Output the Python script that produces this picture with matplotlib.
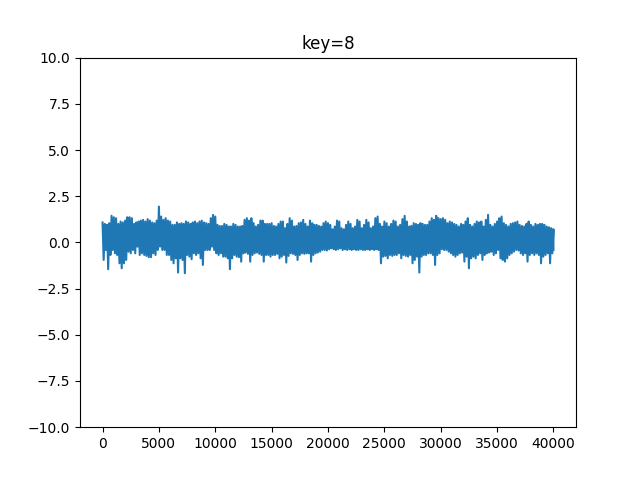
import matplotlib
matplotlib.use("Agg")
import matplotlib.pyplot as plt
import numpy as np

# envelope of the signal, one value every 200 samples
upper = [
    1.08, 1.00, 0.95, 1.04, 1.44, 1.36, 1.31, 1.00, 1.13, 1.08,
    1.18, 1.36, 1.36, 1.31, 1.00, 1.08, 1.13, 1.18, 1.22, 1.13,
    1.26, 1.18, 1.08, 1.04, 1.18, 1.94, 1.40, 1.22, 1.31, 1.18,
    1.13, 0.95, 0.95, 1.08, 1.00, 1.04, 1.00, 1.13, 1.08, 1.00,
    1.08, 1.13, 1.04, 1.13, 1.18, 1.08, 1.04, 1.00, 1.31, 1.49,
    1.40, 0.95, 0.89, 0.89, 1.00, 0.95, 0.86, 0.86, 1.00, 0.95,
    0.86, 0.86, 0.89, 1.22, 1.31, 1.18, 1.31, 1.04, 0.86, 0.95,
    1.18, 1.18, 1.00, 1.00, 1.00, 1.04, 0.89, 0.86, 1.00, 1.13,
    1.13, 0.77, 1.00, 1.31, 1.18, 0.86, 0.89, 1.04, 1.08, 1.22,
    1.00, 0.86, 1.18, 1.04, 0.95, 0.95, 0.89, 0.86, 1.04, 1.13,
    1.04, 0.95, 0.71, 0.86, 1.18, 1.13, 0.77, 0.71, 0.95, 1.13,
    1.00, 0.77, 0.86, 1.22, 1.13, 0.77, 0.95, 1.22, 1.08, 0.77,
    0.86, 1.31, 1.40, 1.00, 0.86, 1.13, 1.04, 0.86, 1.00, 1.18,
    1.13, 0.86, 0.95, 1.26, 1.44, 1.13, 0.86, 0.89, 1.04, 1.00,
    0.95, 1.04, 1.00, 0.95, 0.95, 1.13, 1.31, 1.22, 1.44, 1.31,
    1.26, 1.31, 1.22, 1.04, 1.13, 1.08, 1.00, 0.95, 0.86, 1.00,
    0.95, 1.13, 1.31, 0.95, 0.86, 1.00, 1.13, 1.08, 1.13, 0.86,
    1.22, 1.49, 0.95, 0.86, 1.00, 1.13, 1.31, 1.40, 1.04, 0.95,
    0.86, 1.00, 1.04, 1.08, 1.13, 0.95, 0.89, 0.86, 1.00, 1.13,
    0.95, 0.86, 1.00, 0.95, 1.00, 1.00, 0.95, 0.86, 0.82, 0.77,
    0.71,
]
lower = [
    -0.95, -0.41, -1.45, -0.68, -0.41, -0.59, -0.68, -1.13, -1.40, -1.13,
    -0.95, -0.50, -0.59, -0.41, -0.59, -0.23, -0.68, -0.59, -0.68, -0.73,
    -0.80, -0.80, -0.59, -0.68, -0.41, -0.23, -0.41, -0.41, -0.68, -0.68,
    -0.95, -1.13, -0.86, -1.63, -0.86, -0.95, -1.67, -0.68, -0.77, -0.91,
    -0.59, -0.68, -0.59, -0.86, -1.22, -0.41, -0.41, -0.41, -0.23, -0.41,
    -0.59, -0.68, -0.59, -0.77, -0.77, -0.86, -1.45, -0.86, -0.68, -0.77,
    -0.80, -1.04, -0.59, -0.55, -0.62, -1.04, -0.68, -0.59, -0.55, -0.62,
    -0.68, -1.04, -0.68, -0.68, -0.77, -0.68, -0.68, -0.62, -0.86, -0.77,
    -0.68, -1.09, -0.73, -0.59, -0.62, -0.68, -0.95, -0.68, -0.59, -0.62,
    -0.59, -0.59, -1.04, -0.68, -0.59, -0.55, -0.50, -0.41, -0.41, -0.44,
    -0.37, -0.32, -0.37, -0.41, -0.37, -0.32, -0.41, -0.37, -0.41, -0.37,
    -0.41, -0.37, -0.41, -0.41, -0.37, -0.41, -0.41, -0.37, -0.41, -0.37,
    -0.41, -0.37, -0.41, -1.13, -0.77, -0.73, -0.86, -0.68, -0.73, -0.68,
    -0.68, -0.59, -0.86, -0.68, -0.73, -0.77, -0.68, -1.13, -0.95, -0.77,
    -1.63, -0.77, -0.68, -0.68, -0.59, -0.59, -0.68, -1.22, -0.68, -0.59,
    -0.37, -0.41, -0.41, -0.50, -0.59, -0.68, -0.77, -0.68, -0.59, -0.55,
    -1.04, -0.77, -1.40, -0.86, -0.77, -0.86, -0.68, -0.59, -0.95, -0.68,
    -0.59, -0.55, -0.50, -0.68, -0.59, -0.41, -0.86, -0.95, -1.04, -0.86,
    -0.68, -0.59, -0.50, -0.41, -0.44, -0.59, -0.68, -0.59, -1.04, -0.68,
    -0.59, -0.68, -0.59, -0.68, -1.13, -0.77, -0.68, -0.59, -1.13, -0.59,
    -0.41,
]
step = 200

# alternate between the top and bottom of the band to get the dense trace
n = len(upper)
idx = np.empty(2 * n)
idx[0::2] = np.arange(n) * step
idx[1::2] = np.minimum(np.arange(n) * step + step / 2, 39999)
vals = np.empty(2 * n)
vals[0::2] = upper
vals[1::2] = lower

fig, ax = plt.subplots()
ax.plot(idx, vals)
ax.set_ylim(-10, 10)
ax.set_title("key=8")

plt.savefig("out.png")
plt.close()
